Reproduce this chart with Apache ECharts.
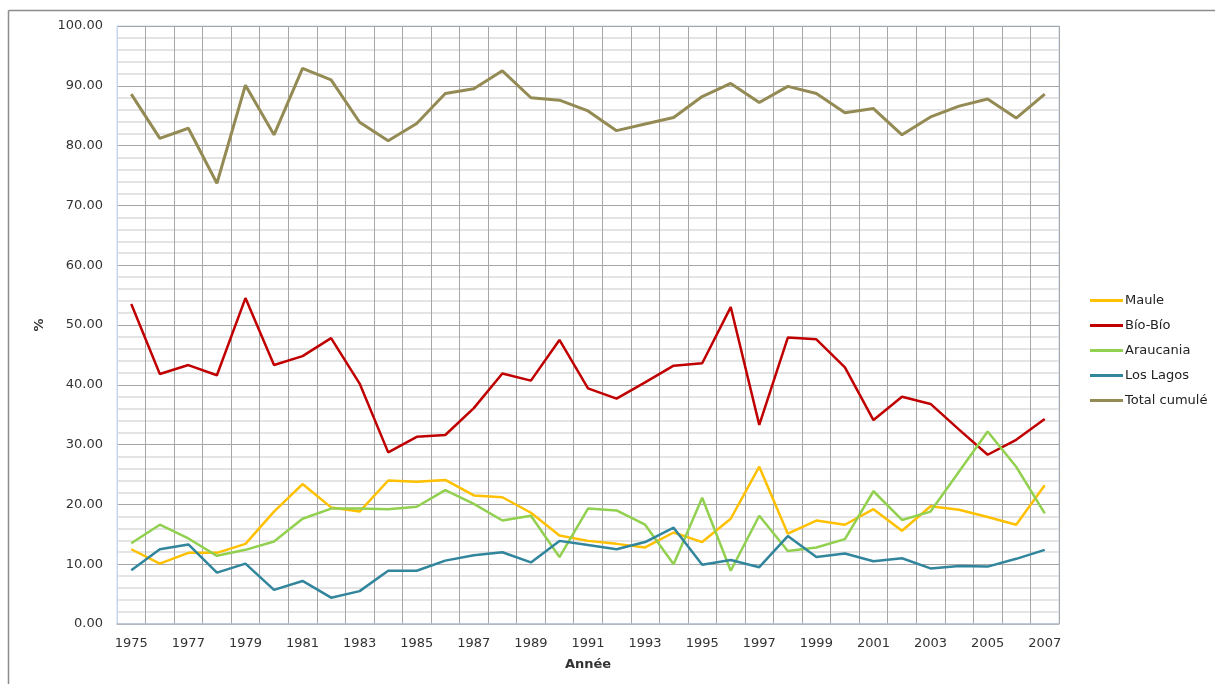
<!DOCTYPE html>
<html>
<head>
<meta charset="utf-8">
<script src="https://cdn.jsdelivr.net/npm/echarts@6/dist/echarts.min.js"></script>
<style>
  html, body { margin: 0; padding: 0; background: #fff; }
  #chart { width: 1215px; height: 684px; }
</style>
</head>
<body>
<div id="chart"></div>
<script>
// Years on the category axis
const years = [];
for (let y = 1975; y <= 2007; y++) years.push(String(y));

// Regional shares (%) per year
const maule = [12.5, 10.1, 11.9, 11.9, 13.4, 18.8, 23.4, 19.5, 18.8, 24.0,
  23.8, 24.1, 21.5, 21.2, 18.6, 14.8, 13.9, 13.4, 12.8, 15.3,
  13.7, 17.6, 26.3, 15.1, 17.3, 16.6, 19.2, 15.6, 19.7, 19.1,
  17.9, 16.6, 23.2];
const bioBio = [53.5, 41.8, 43.3, 41.6, 54.5, 43.3, 44.8, 47.8, 40.2, 28.7,
  31.3, 31.6, 36.1, 41.9, 40.7, 47.5, 39.4, 37.7, 40.4, 43.2,
  43.6, 53.0, 33.3, 47.9, 47.6, 42.9, 34.1, 38.0, 36.8, 32.5,
  28.3, 30.8, 34.3];
const araucania = [13.5, 16.6, 14.3, 11.4, 12.4, 13.8, 17.6, 19.3, 19.3, 19.2,
  19.6, 22.4, 20.1, 17.3, 18.1, 11.2, 19.3, 19.0, 16.6, 10.0,
  21.1, 8.9, 18.1, 12.2, 12.8, 14.2, 22.2, 17.4, 18.8, 25.5,
  32.2, 26.3, 18.5];
const losLagos = [9.0, 12.5, 13.3, 8.6, 10.1, 5.7, 7.2, 4.4, 5.5, 8.9,
  8.9, 10.6, 11.5, 12.0, 10.3, 13.9, 13.2, 12.5, 13.7, 16.1,
  9.9, 10.7, 9.5, 14.7, 11.2, 11.8, 10.5, 11.0, 9.3, 9.7,
  9.6, 10.9, 12.4];
const totalCumule = [88.6, 81.2, 82.9, 73.7, 90.1, 81.8, 92.9, 91.0, 83.9, 80.8,
  83.7, 88.7, 89.5, 92.5, 88.0, 87.6, 85.8, 82.5, 83.6, 84.7,
  88.2, 90.4, 87.2, 89.9, 88.7, 85.5, 86.2, 81.8, 84.8, 86.6,
  87.8, 84.6, 88.6];

const seriesDefs = [
  { name: 'Maule', data: maule, color: '#FFC000', width: 2.5 },
  { name: 'Bío-Bío', data: bioBio, color: '#C00000', width: 2.5 },
  { name: 'Araucania', data: araucania, color: '#92D050', width: 2.5 },
  { name: 'Los Lagos', data: losLagos, color: '#31859C', width: 2.5 },
  { name: 'Total cumulé', data: totalCumule, color: '#948A54', width: 3 }
];

const font = 'DejaVu Sans';
const chart = echarts.init(document.getElementById('chart'), null, { renderer: 'canvas' });

chart.setOption({
  animation: false,
  backgroundColor: '#ffffff',
  textStyle: { fontFamily: font },
  grid: {
    left: 117, right: 156, top: 26, bottom: 60,
    show: true, borderColor: '#c6d4ee', borderWidth: 1
  },
  legend: {
    orient: 'vertical',
    left: 1085, top: 289,
    itemWidth: 33, itemHeight: 3, itemGap: 12,
    icon: 'rect',
    textStyle: { fontFamily: font, fontSize: 13, color: '#222', padding: [0, 0, 0, -3] },
    data: seriesDefs.map(s => s.name)
  },
  xAxis: {
    type: 'category',
    data: years,
    boundaryGap: true,
    name: 'Année',
    nameLocation: 'middle',
    nameGap: 34,
    nameTextStyle: { fontFamily: font, fontSize: 13, fontWeight: 'bold', color: '#333' },
    axisLine: { show: true, lineStyle: { color: '#b4bccc', width: 1.5 } },
    axisTick: { show: false },
    axisLabel: { interval: 1, fontFamily: font, fontSize: 13, color: '#333', margin: 13 },
    splitLine: { show: true, interval: 0, lineStyle: { color: '#a6a6a6', width: 1 } }
  },
  yAxis: {
    type: 'value',
    min: 0, max: 100, interval: 10,
    name: '%',
    nameLocation: 'middle',
    nameGap: 70,
    nameRotate: 90,
    nameTextStyle: { fontFamily: font, fontSize: 13, fontWeight: 'bold', color: '#333' },
    axisLine: { show: true, lineStyle: { color: '#c6d4ee', width: 1 } },
    axisTick: { show: false },
    axisLabel: {
      fontFamily: font, fontSize: 13, color: '#333', margin: 14,
      formatter: v => v.toFixed(2)
    },
    splitLine: { show: true, lineStyle: { color: '#a6a6a6', width: 1 } },
    minorTick: { show: false, splitNumber: 5 },
    minorSplitLine: { show: true, lineStyle: { color: '#dcdcdc', width: 1.5 } }
  },
  series: seriesDefs.map(s => ({
    name: s.name,
    type: 'line',
    data: s.data,
    symbol: 'none',
    smooth: false,
    lineStyle: { color: s.color, width: s.width },
    itemStyle: { color: s.color }
  })),
  graphic: [
    { type: 'line', shape: { x1: 8.5, y1: 10.5, x2: 1215, y2: 10.5 },
      style: { stroke: '#8c8c8c', lineWidth: 1.5 } },
    { type: 'line', shape: { x1: 8.5, y1: 10.5, x2: 8.5, y2: 684 },
      style: { stroke: '#8c8c8c', lineWidth: 1.5 } }
  ]
});
</script>
</body>
</html>
